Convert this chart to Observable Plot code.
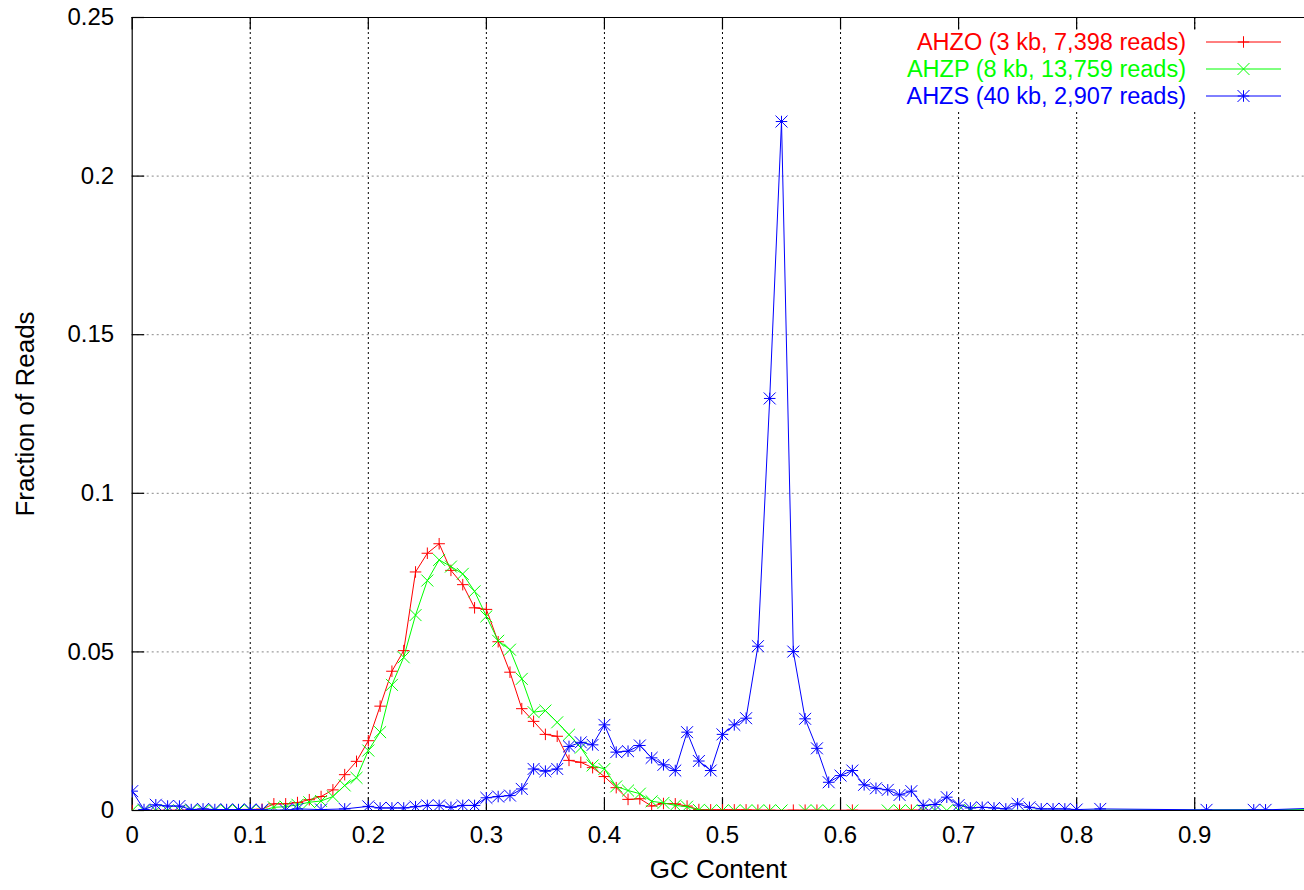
<!DOCTYPE html>
<html><head><meta charset="utf-8">
<script src="https://cdn.jsdelivr.net/npm/d3@7"></script>
<script src="https://cdn.jsdelivr.net/npm/@observablehq/plot@0.6"></script>
<style>body{margin:0;background:#fff}svg{display:block}</style>
</head><body><div id="chart"></div>
<script>
// ---- tick values / labels
const xTicks = [0, 0.1, 0.2, 0.3, 0.4, 0.5, 0.6, 0.7, 0.8, 0.9];
const xTickLabels = ["0", "0.1", "0.2", "0.3", "0.4", "0.5", "0.6", "0.7", "0.8", "0.9"];
const yTicks = [0, 0.05, 0.1, 0.15, 0.2, 0.25];
const yTickLabels = ["0", "0.05", "0.1", "0.15", "0.2", "0.25"];
const xLabel = "GC Content";
const yLabel = "Fraction of Reads";

// ---- series names
const seriesNames = ["AHZO (3 kb, 7,398 reads)", "AHZP (8 kb, 13,759 reads)", "AHZS (40 kb, 2,907 reads)"];

// ---- AHZO (red)
const ahzoGC = [0, 0.11, 0.12, 0.13, 0.14, 0.15, 0.16, 0.17, 0.18, 0.19, 0.20, 0.21, 0.22, 0.23, 0.24, 0.25, 0.26, 0.27, 0.28, 0.29, 0.30, 0.31, 0.32, 0.33, 0.34, 0.35, 0.36, 0.37, 0.38, 0.39, 0.40, 0.41, 0.42, 0.43, 0.44, 0.45, 0.46, 0.47, 0.48, 0.49, 0.50, 0.51, 0.52, 0.53, 0.54, 0.56, 0.57, 0.58, 0.61, 0.65, 0.66, 0.67];
const ahzoFrac = [0, 0.0004, 0.0021, 0.0021, 0.0025, 0.0034, 0.0044, 0.0065, 0.0113, 0.0155, 0.0220, 0.0329, 0.0439, 0.0504, 0.0752, 0.0811, 0.0841, 0.0757, 0.0712, 0.0639, 0.0634, 0.0532, 0.0436, 0.0321, 0.0281, 0.0240, 0.0234, 0.0158, 0.0152, 0.0135, 0.0107, 0.0072, 0.0035, 0.0037, 0.0014, 0.0022, 0.0021, 0.0014, 0.0003, 0.0002, 0.0002, 0.0002, 0.0002, 0.0001, 0.0001, 0.0001, 0.0001, 0.0001, 0.0001, 0.0001, 0.0001, 0.0001];

// ---- AHZP (green)
const ahzpGC = [0, 0.01, 0.02, 0.03, 0.04, 0.05, 0.06, 0.07, 0.08, 0.09, 0.10, 0.11, 0.12, 0.13, 0.14, 0.15, 0.16, 0.17, 0.18, 0.19, 0.20, 0.21, 0.22, 0.23, 0.24, 0.25, 0.26, 0.27, 0.28, 0.29, 0.30, 0.31, 0.32, 0.33, 0.34, 0.35, 0.36, 0.37, 0.38, 0.39, 0.40, 0.41, 0.42, 0.43, 0.44, 0.45, 0.46, 0.47, 0.48, 0.49, 0.50, 0.51, 0.52, 0.53, 0.54, 0.55, 0.57, 0.58, 0.59, 0.61, 0.64, 0.65, 0.66, 0.67, 0.68, 0.69, 0.70, 0.71, 1.00];
const ahzpFrac = [0, 0, 0, 0, 0, 0, 0, 0, 0, 0, 0, 0, 0.0010, 0.0012, 0.0018, 0.0026, 0.0030, 0.0044, 0.0079, 0.0103, 0.0189, 0.0247, 0.0396, 0.0483, 0.0616, 0.0725, 0.0790, 0.0769, 0.0746, 0.0691, 0.0612, 0.0535, 0.0507, 0.0415, 0.0310, 0.0315, 0.0278, 0.0239, 0.0198, 0.0142, 0.0131, 0.0076, 0.0063, 0.0053, 0.0029, 0.0024, 0.0016, 0.0012, 0.0002, 0, 0, 0, 0, 0, 0, 0, 0, 0, 0, 0, 0, 0, 0, 0, 0, 0, 0, 0, 0.0003];

// ---- AHZS (blue)
const ahzsGC = [0, 0.01, 0.02, 0.03, 0.04, 0.05, 0.06, 0.07, 0.08, 0.09, 0.10, 0.11, 0.13, 0.14, 0.16, 0.18, 0.20, 0.21, 0.22, 0.23, 0.24, 0.25, 0.26, 0.27, 0.28, 0.29, 0.30, 0.31, 0.32, 0.33, 0.34, 0.35, 0.36, 0.37, 0.38, 0.39, 0.40, 0.41, 0.42, 0.43, 0.44, 0.45, 0.46, 0.47, 0.48, 0.49, 0.50, 0.51, 0.52, 0.53, 0.54, 0.55, 0.56, 0.57, 0.58, 0.59, 0.60, 0.61, 0.62, 0.63, 0.64, 0.65, 0.66, 0.67, 0.68, 0.69, 0.70, 0.71, 0.72, 0.73, 0.74, 0.75, 0.76, 0.77, 0.78, 0.79, 0.80, 0.82, 0.91, 0.95, 0.96, 1.00];
const ahzsFrac = [0.0061, 0.0003, 0.0018, 0.0014, 0.0014, 0.0003, 0.0005, 0.0003, 0.0003, 0.0003, 0.0003, 0.0002, 0.0001, 0.0005, 0.0003, 0.0005, 0.0013, 0.0008, 0.0008, 0.0008, 0.0012, 0.0016, 0.0016, 0.0010, 0.0016, 0.0016, 0.0040, 0.0044, 0.0047, 0.0068, 0.0131, 0.0124, 0.0131, 0.0202, 0.0215, 0.0207, 0.0270, 0.0184, 0.0187, 0.0205, 0.0166, 0.0144, 0.0126, 0.0247, 0.0156, 0.0126, 0.0240, 0.0270, 0.0291, 0.0518, 0.1299, 0.2172, 0.0501, 0.0289, 0.0196, 0.0089, 0.0110, 0.0126, 0.0081, 0.0070, 0.0065, 0.0049, 0.0061, 0.0016, 0.0019, 0.0042, 0.0017, 0.0008, 0.0010, 0.0008, 0.0005, 0.0021, 0.0010, 0.0005, 0.0005, 0.0005, 0.0003, 0.0005, 0.0002, 0.0002, 0.0002, 0.0007];

const colors = ["#ff0000", "#00ff00", "#0000ff"];

// ---- layout
const W = 1304, H = 890;
const mL = 131.7, mR = 0, mT = 17, mB = 80;
const xDomain = [0, 0.993];
const yDomain = [0, 0.25];
const font = "'Liberation Sans', Arial, Helvetica, sans-serif";
const fs = 24;      // tick labels
const fsL = 26;     // axis titles
const fsK = 23.5;   // legend

const toRows = (gc, fr) => gc.map((g, i) => ({gc: g, frac: fr[i]}));
const red = toRows(ahzoGC, ahzoFrac);
const green = toRows(ahzpGC, ahzpFrac);
const blue = toRows(ahzsGC, ahzsFrac);

// tick lengths expressed in data units
const tickPx = 12.5;
const yTickLen = tickPx / (H - mT - mB) * (yDomain[1] - yDomain[0]);
const xTickLen = tickPx / (W - mL - mR) * (xDomain[1] - xDomain[0]);

const plusR = 3.8, timesR = 5.5;

const chart = Plot.plot({
  width: W, height: H,
  marginLeft: mL, marginRight: mR, marginTop: mT, marginBottom: mB,
  style: {fontFamily: font, fontSize: fs + "px", background: "#fff", color: "#000"},
  x: {domain: xDomain},
  y: {domain: yDomain},
  clip: true,
  marks: [
    // grid
    Plot.ruleX(xTicks.filter(d => d > 0), {x: d => d, stroke: "#000", strokeWidth: 1, strokeDasharray: "2,3", clip: false}),
    Plot.ruleY(yTicks.filter(d => d > 0 && d < 0.25), {y: d => d, stroke: "#888", strokeWidth: 1, strokeDasharray: "2,3", clip: false}),
    // border (left, bottom, top)
    Plot.ruleX([xDomain[0]], {x: d => d, stroke: "#000", strokeWidth: 1.2, clip: false}),
    Plot.ruleY([yDomain[0], yDomain[1]], {y: d => d, stroke: "#000", strokeWidth: 1.2, clip: false}),
    // inward tick marks
    Plot.ruleX(xTicks, {x: d => d, y1: yDomain[0], y2: yDomain[0] + yTickLen, stroke: "#000", strokeWidth: 1.2, clip: false}),
    Plot.ruleX(xTicks, {x: d => d, y1: yDomain[1], y2: yDomain[1] - yTickLen, stroke: "#000", strokeWidth: 1.2, clip: false}),
    Plot.ruleY(yTicks, {y: d => d, x1: xDomain[0], x2: xDomain[0] + xTickLen, stroke: "#000", strokeWidth: 1.2, clip: false}),
    // axes labels
    Plot.axisX(xTicks, {tickSize: 0, tickPadding: 15, tickFormat: d => xTickLabels[xTicks.indexOf(d)], label: null, fontSize: fs}),
    Plot.axisY(yTicks, {tickSize: 0, tickPadding: 18, tickFormat: d => yTickLabels[yTicks.indexOf(d)], label: null, fontSize: fs}),
    Plot.text([xLabel], {frameAnchor: "bottom", textAnchor: "middle", dy: 67, text: d => d, fontSize: fsL, clip: false}),
    Plot.text([yLabel], {frameAnchor: "left", textAnchor: "middle", dx: -107, rotate: -90, text: d => d, fontSize: fsL, clip: false}),
    // data
    Plot.line(red, {x: "gc", y: "frac", stroke: colors[0], strokeWidth: 1}),
    Plot.dot(red, {x: "gc", y: "frac", symbol: "plus", r: plusR, stroke: colors[0], strokeWidth: 1}),
    Plot.line(green, {x: "gc", y: "frac", stroke: colors[1], strokeWidth: 1}),
    Plot.dot(green, {x: "gc", y: "frac", symbol: "times", r: timesR, stroke: colors[1], strokeWidth: 1}),
    Plot.line(blue, {x: "gc", y: "frac", stroke: colors[2], strokeWidth: 1}),
    Plot.dot(blue, {x: "gc", y: "frac", symbol: "plus", r: plusR, stroke: colors[2], strokeWidth: 1}),
    Plot.dot(blue, {x: "gc", y: "frac", symbol: "times", r: timesR, stroke: colors[2], strokeWidth: 1})
  ]
});
document.getElementById("chart").appendChild(chart);

// ---- legend (opaque key box, like gnuplot)
const svg = d3.select(chart);
const leg = svg.append("g").attr("font-family", font).attr("font-size", fsK);
leg.append("rect").attr("x", 864).attr("y", 30).attr("width", W - 864).attr("height", 80).attr("fill", "#fff");
const rowY = [42, 69, 96];
const textRight = 1186, lineX1 = 1206, lineX2 = 1281, symX = 1243.5;
const plusSym = d3.symbol(d3.symbolPlus, Math.PI * plusR * plusR);
const timesSym = d3.symbol(d3.symbolTimes, Math.PI * timesR * timesR);
seriesNames.forEach((name, i) => {
  const y = rowY[i];
  leg.append("text").attr("x", textRight).attr("y", y).attr("dy", "0.35em")
    .attr("text-anchor", "end").attr("fill", colors[i]).text(name);
  leg.append("line").attr("x1", lineX1).attr("x2", lineX2).attr("y1", y).attr("y2", y)
    .attr("stroke", colors[i]).attr("stroke-width", 1);
  const syms = i === 0 ? [plusSym] : i === 1 ? [timesSym] : [plusSym, timesSym];
  syms.forEach(s => leg.append("path").attr("d", s()).attr("transform", `translate(${symX},${y})`)
    .attr("fill", "none").attr("stroke", colors[i]).attr("stroke-width", 1));
});
</script>
</body></html>
